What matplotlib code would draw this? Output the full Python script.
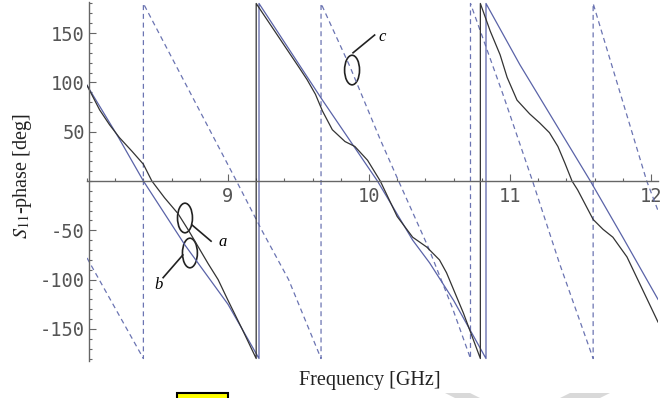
import numpy as np
import matplotlib.pyplot as plt
from matplotlib.patches import Ellipse, Rectangle, Polygon
from matplotlib.ticker import MultipleLocator, FixedLocator

plt.rcParams["mathtext.fontset"] = "stix"

# curve a: measured S11 phase (dark solid)
freq_a = [8.0, 8.09, 8.16, 8.23, 8.32, 8.40, 8.46, 8.55, 8.645, 8.72, 8.79, 8.86, 8.93, 9.0, 9.10, 9.20,
          9.20, 9.35, 9.50, 9.56, 9.62, 9.67, 9.74, 9.83, 9.90, 9.99, 10.08, 10.20, 10.31, 10.41,
          10.50, 10.55, 10.67, 10.79,
          10.79, 10.86, 10.93, 10.98, 11.05, 11.14, 11.21, 11.28, 11.34, 11.39, 11.44, 11.48,
          11.59, 11.66, 11.73, 11.83, 11.94, 12.05]
phase_a = [97, 72, 57, 44, 30, 17, 0, -17, -33, -50, -67, -84, -100, -121, -150, -180,
           180, 148, 116, 103, 88, 71, 52, 40, 35, 21, 0, -36, -57, -67,
           -80, -93, -134, -180,
           180, 152, 128, 105, 82, 68, 59, 49, 35, 18, 0, -9,
           -39, -49, -57, -77, -110, -143]

# curve b: simulated (blue solid)
freq_b = [8.0, 8.22, 8.40, 8.695, 9.0, 9.22,
          9.22, 9.67, 10.06, 10.31, 10.43, 10.60, 10.83,
          10.83, 11.07, 11.57, 11.80, 12.05]
phase_b = [97, 45, 0, -65, -125, -180,
           180, 82, 0, -60, -83, -121, -180,
           180, 118, 0, -57, -120]

# curve c: reference (blue dashed)
freq_c = [8.0, 8.40, 8.40, 8.62, 8.80, 9.06, 9.24, 9.43, 9.66,
          9.66, 9.865, 10.08, 10.21, 10.42, 10.59, 10.72,
          10.72, 10.95, 11.16, 11.35, 11.59,
          11.59, 11.97, 12.05]
phase_c = [-78, -180, 180, 120, 71, 0, -50, -100, -180,
           180, 116, 42, 0, -67, -128, -180,
           180, 88, 0, -83, -180,
           180, 0, -30]

major_x = [9, 10, 11, 12]
major_y = [-150, -100, -50, 50, 100, 150]

fig = plt.figure(figsize=(6.61, 3.98), dpi=100)
ax = fig.add_axes([87 / 661, 37.5 / 398, 571 / 661, 359 / 398])

ax.plot(freq_c, phase_c, color="#6b74b2", lw=0.9, linestyle=(0, (4, 3)))
ax.plot(freq_b, phase_b, color="#5a63a8", lw=0.9)
ax.plot(freq_a, phase_a, color="#333333", lw=0.9)

ax.set_xlim(8.0, 12.05)
ax.set_ylim(-182, 182)

for s in ["top", "right"]:
    ax.spines[s].set_visible(False)
ax.spines["bottom"].set_position(("data", 0))
ax.spines["left"].set_position(("data", 8.014))
for s in ["bottom", "left"]:
    ax.spines[s].set_color("#666666")
    ax.spines[s].set_linewidth(1.0)

ax.xaxis.set_major_locator(FixedLocator(major_x))
ax.xaxis.set_minor_locator(MultipleLocator(0.2))
ax.yaxis.set_major_locator(FixedLocator(major_y))
ax.yaxis.set_minor_locator(MultipleLocator(10))
ax.tick_params(which="both", direction="in", color="#666666", width=0.8)
ax.tick_params(which="major", length=5)
ax.tick_params(which="minor", length=2.5)
ax.tick_params(axis="x", pad=4)
ax.tick_params(axis="y", pad=3)
ax.set_yticklabels(["-150", "-100", "-50", "50", "100", "150"])
ax.set_xticklabels(["9", "10", "11", "12"])
for lab in ax.get_xticklabels() + ax.get_yticklabels():
    lab.set_family("DejaVu Sans Mono")
    lab.set_fontsize(13.5)
    lab.set_color("#555555")

fig.text(370 / 661, 1 - 381 / 398, "Frequency [GHz]", family="Liberation Serif",
         fontsize=14.5, ha="center", va="center", color="#222222")
fig.text(22 / 661, 1 - 176 / 398, r"$S_{11}$" + "-phase [deg]", family="Liberation Serif",
         fontsize=14.5, ha="center", va="center", rotation=90, color="#222222")

# annotation ellipses and leaders
for (cx, cy) in [(8.695, -37.5), (8.73, -73), (9.88, 112.5)]:
    ax.add_patch(Ellipse((cx, cy), 0.106, 30, fill=False, ec="#222222", lw=1.2))
ax.plot([8.745, 8.88], [-44.6, -61], color="#222222", lw=1.2)
ax.plot([8.68, 8.54], [-75, -98], color="#222222", lw=1.2)
ax.plot([9.887, 10.04], [130, 148], color="#222222", lw=1.2)
ax.text(8.93, -62, "a", family="Liberation Serif", style="italic", fontsize=12, va="center")
ax.text(8.51, -105, "b", family="Liberation Serif", style="italic", fontsize=12, ha="center", va="center")
ax.text(10.07, 146, "c", family="Liberation Serif", style="italic", fontsize=12, va="center")

# page artifacts at the bottom edge
fig.patches.append(Rectangle((177 / 661, -0.01), 51 / 661, 9 / 398, transform=fig.transFigure,
                             fc="#ffff00", ec="black", lw=1.5))
fig.patches.append(Polygon([(445 / 661, 5 / 398), (470 / 661, 5 / 398), (480 / 661, 0), (455 / 661, 0)],
                           transform=fig.transFigure, fc="#d9d9d9", ec="none"))
fig.patches.append(Polygon([(570 / 661, 5 / 398), (610 / 661, 5 / 398), (600 / 661, 0), (560 / 661, 0)],
                           transform=fig.transFigure, fc="#d9d9d9", ec="none"))

fig.savefig("out.png", dpi=100)
